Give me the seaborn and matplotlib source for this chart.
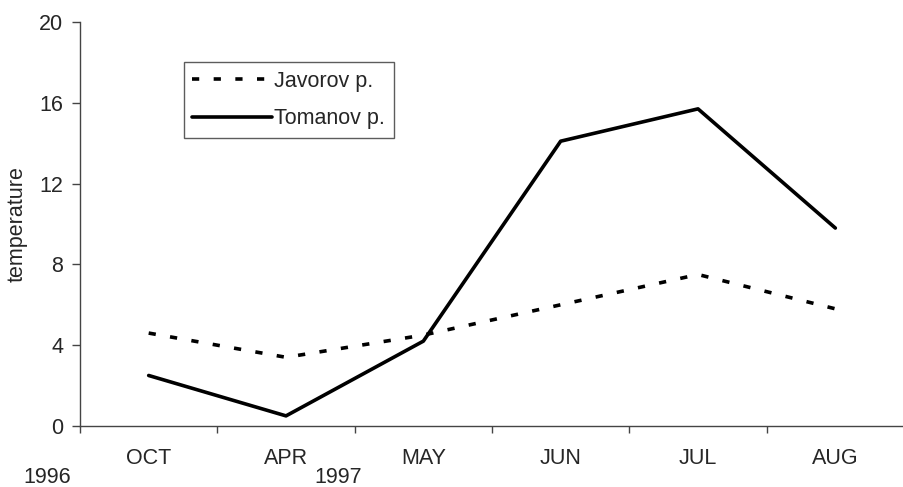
import matplotlib
matplotlib.use("Agg")
import matplotlib.pyplot as plt
import numpy as np
import pandas as pd
import seaborn as sns

# values
months = ["OCT", "APR", "MAY", "JUN", "JUL", "AUG"]
javorov = [4.6, 3.4, 4.5, 6.0, 7.5, 5.8]
tomanov = [2.5, 0.5, 4.2, 14.1, 15.7, 9.8]
years = ["1996", "1997"]
year_pos = [-0.74, 1.38]

sns.set_style("white")
plt.rcParams['font.family'] = ['Liberation Sans', 'DejaVu Sans']
FS = 15.5

fig = plt.figure(figsize=(9.04, 4.87), dpi=100)
ax = fig.add_axes([0.0885, 0.1253, 0.9115, 0.8295])

sns.lineplot(x=months, y=javorov, sort=False, color='black', lw=2.6,
             linestyle=(0, (2, 4)), label='Javorov p.', ax=ax)
sns.lineplot(x=months, y=tomanov, sort=False, color='black', lw=2.6,
             linestyle='-', label='Tomanov p.', ax=ax)

ax.set_xlim(-0.5, len(months) - 0.5)
ax.set_ylim(0, 20)
ax.set_yticks([0, 4, 8, 12, 16, 20])
ax.set_xticks(np.arange(len(months)))
ax.set_xticklabels(months)
ax.set_xticks(np.arange(len(months)) - 0.5, minor=True)
ax.tick_params(axis='x', which='major', length=0, pad=16, labelsize=FS)
ax.tick_params(axis='x', which='minor', length=5, width=1, color='#444444', direction='out')
ax.tick_params(axis='y', length=6, width=1, color='#444444', direction='out',
               pad=6, labelsize=FS, left=True)
ax.tick_params(axis='x', bottom=True, which='both')

for s in ['top', 'right']:
    ax.spines[s].set_visible(False)
for s in ['left', 'bottom']:
    ax.spines[s].set_color('#444444')
    ax.spines[s].set_linewidth(1)

ax.set_xlabel('')
ax.set_ylabel('temperature', fontsize=FS, labelpad=8)

for yr, xp in zip(years, year_pos):
    ax.text(xp, -0.127, yr, transform=ax.get_xaxis_transform(),
            ha='center', va='center', fontsize=FS)

leg = ax.legend(loc='upper left', bbox_to_anchor=(0.126, 0.901), fontsize=FS,
                frameon=True, fancybox=False, handlelength=3.7,
                handletextpad=0.1, borderpad=0.4, labelspacing=0.77,
                borderaxespad=0)
leg.get_frame().set_edgecolor('#333333')
leg.get_frame().set_linewidth(1)

fig.savefig('out.png', dpi=100)
